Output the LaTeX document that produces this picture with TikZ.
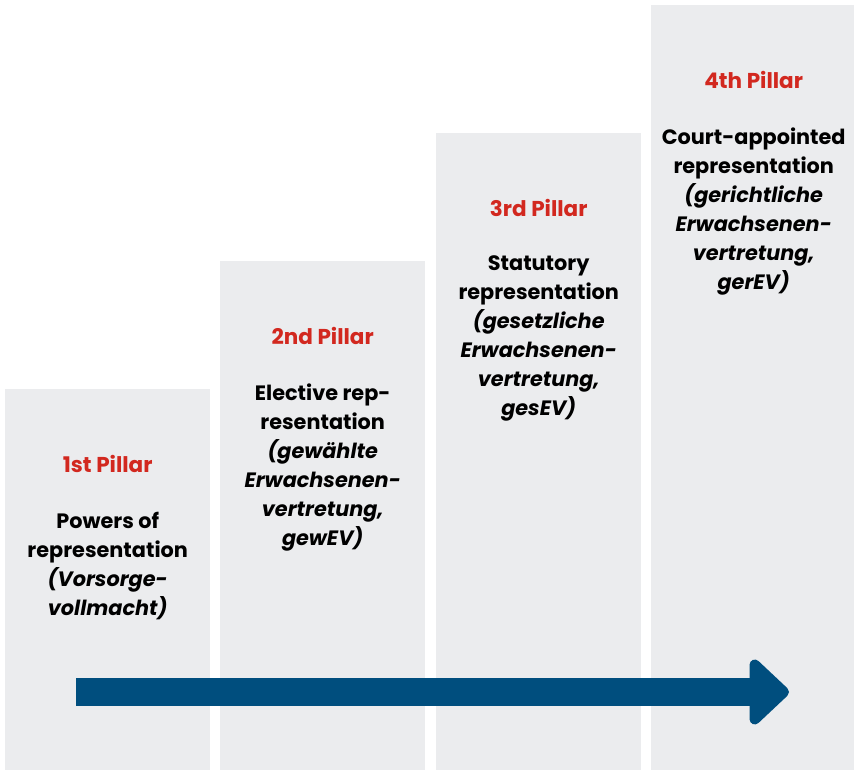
\documentclass[tikz,border=0pt]{standalone}
\usepackage{fontspec}
\setmainfont{Poppins}
\usetikzlibrary{arrows.meta}
\definecolor{pillargrey}{HTML}{EBECEE}
\definecolor{pillarred}{HTML}{D2281F}
\definecolor{arrowblue}{HTML}{004E7E}

\begin{document}
\begin{tikzpicture}[x=1pt,y=1pt,
    pillar/.style={fill=pillargrey,draw=none,inner sep=0pt,anchor=south west,minimum width=205pt},
    pillartitle/.style={text=pillarred,font=\fontsize{21.5}{29}\selectfont\bfseries},
    pillartext/.style={align=center,inner sep=0pt,anchor=north,font=\fontsize{20.8}{29}\selectfont\bfseries}]
    \useasboundingbox (0,0) rectangle (854,770);
    \foreach \i/\x/\top/\name/\txt in {
      1/5/381/1st/{Powers of\\representation\\\textit{(Vorsorge-}\\\textit{vollmacht)}},
      2/220/509/2nd/{Elective rep-\\resentation\\\textit{(gewählte}\\\textit{Erwachsenen-}\\\textit{vertretung,}\\\textit{gewEV)}},
      3/436/637/3rd/{Statutory\\representation\\\textit{(gesetzliche}\\\textit{Erwachsenen-}\\\textit{vertretung,}\\\textit{gesEV)}},
      4/651/765/4th/{Court-appointed\\representation\\\textit{(gerichtliche}\\\textit{Erwachsenen-}\\\textit{vertretung,}\\\textit{gerEV)}}}{
      \node[pillar,minimum height=\top pt] (p\i) at (\x,0) {};
      \node[pillartitle] (t\i) at ([yshift=-75pt]p\i.north) {\name{} Pillar};
      \node[pillartext] (b\i) at ([yshift=-123pt]p\i.north) {\txt};
    }
    % the arrow across the pillars
    \coordinate (a0) at (76,78);
    \coordinate (a1) at (789,78);
    \draw[arrowblue,line width=28pt,-{Triangle[length=42pt,width=76pt,round]}] (a0) -- (a1);
  \end{tikzpicture}
\end{document}
